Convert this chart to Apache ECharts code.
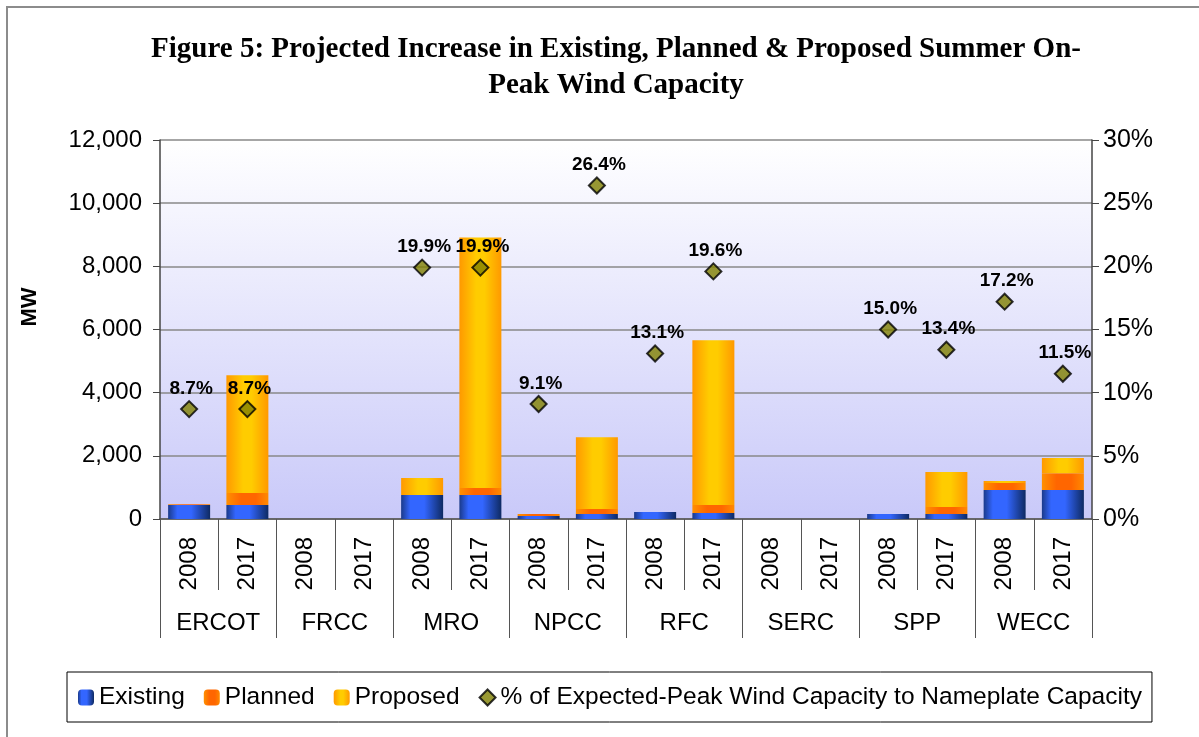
<!DOCTYPE html>
<html>
<head>
<meta charset="utf-8">
<title>Figure 5</title>
<script src="https://cdn.jsdelivr.net/npm/echarts@6/dist/echarts.min.js"></script>
<style>
  html, body { margin: 0; padding: 0; background: #fff; }
  #chart { width: 1199px; height: 737px; }
</style>
</head>
<body>
<div id="chart"></div>
<script>
// regions and the two years shown for each
var regions = ['ERCOT', 'FRCC', 'MRO', 'NPCC', 'RFC', 'SERC', 'SPP', 'WECC']
var years = ['2008', '2017', '2008', '2017', '2008', '2017', '2008', '2017',
             '2008', '2017', '2008', '2017', '2008', '2017', '2008', '2017']

// MW
var existing = [440, 440, 0, 0, 760, 760, 95, 160, 220, 190, 0, 0, 160, 160, 920, 920]
var planned  = [30, 380, 0, 0, 0, 220, 65, 155, 0, 250, 0, 0, 0, 220, 220, 530]
var proposed = [0, 3730, 0, 0, 540, 7930, 0, 2275, 0, 5220, 0, 0, 0, 1105, 60, 480]

// % of expected-peak wind capacity to nameplate capacity
var pctPeak = [8.7, 8.7, null, null, 19.9, 19.9, 9.1, 26.4, 13.1, 19.6, null, null, 15.0, 13.4, 17.2, 11.5]

var mwTicks = [0, 2000, 4000, 6000, 8000, 10000, 12000]

var font = 'Arial, "Liberation Sans", sans-serif'

function hGrad (stops) {
    return new echarts.graphic.LinearGradient(0, 0, 1, 0, stops.map(function (s) {
        return { offset: s[0], color: s[1] }
    }))
}

var chart = echarts.init(document.getElementById('chart'))

var option = {
    animation: false,
    textStyle: { fontFamily: font, color: '#000' },
    graphic: [
        {
            type: 'rect',
            shape: { x: 7, y: 7, width: 1300, height: 800 },
            style: { fill: 'none', stroke: '#8c8c8c', lineWidth: 2 },
            silent: true
        },
        {
            type: 'text',
            x: 616,
            y: 32,
            style: {
                text: 'Figure 5: Projected Increase in Existing, Planned & Proposed Summer On-\nPeak Wind Capacity',
                font: 'bold 29px "Times New Roman", "Liberation Serif", serif',
                fill: '#000',
                align: 'center',
                lineHeight: 36
            }
        },
        {
            type: 'text',
            x: 30,
            y: 307,
            rotation: Math.PI / 2,
            style: {
                text: 'MW',
                font: 'bold 22px ' + font,
                fill: '#000',
                align: 'center',
                verticalAlign: 'middle'
            }
        }
    ],
    grid: {
        left: 160,
        right: 107,
        top: 140,
        bottom: 218,
        show: true,
        borderWidth: 0,
        backgroundColor: new echarts.graphic.LinearGradient(0, 0, 0, 1, [
            { offset: 0, color: '#ffffff' },
            { offset: 1, color: '#c9c9f9' }
        ])
    },
    legend: {
        left: 67,
        top: 672,
        padding: [13, 10, 12, 11],
        itemGap: 19,
        itemWidth: 16,
        itemHeight: 16,
        borderColor: '#000',
        borderWidth: 1,
        textStyle: { fontSize: 24.5, color: '#000', fontFamily: font },
        data: ['Existing', 'Planned', 'Proposed', '% of Expected-Peak Wind Capacity to Nameplate Capacity']
    },
    xAxis: [
        {
            type: 'category',
            data: years,
            position: 'bottom',
            axisLine: { lineStyle: { color: '#555', width: 1.5 } },
            axisTick: { show: true, interval: 0, length: 71, lineStyle: { color: '#555' } },
            axisLabel: { interval: 0, rotate: 90, margin: 18, fontSize: 24, color: '#000' }
        },
        {
            type: 'category',
            data: regions,
            position: 'bottom',
            axisLine: { show: false },
            axisTick: { show: true, interval: 0, length: 119, lineStyle: { color: '#555' } },
            axisLabel: { interval: 0, margin: 92, fontSize: 24, color: '#000' }
        }
    ],
    yAxis: [
        {
            type: 'value',
            min: mwTicks[0],
            max: mwTicks[mwTicks.length - 1],
            interval: 2000,
            axisLine: { show: true, lineStyle: { color: '#444', width: 1.5 } },
            axisTick: { show: true, length: 7, lineStyle: { color: '#444' } },
            splitLine: { lineStyle: { color: '#888', width: 1.5 } },
            axisLabel: {
                margin: 18,
                fontSize: 24,
                color: '#000',
                formatter: function (v) { return v.toLocaleString('en-US') }
            }
        },
        {
            type: 'value',
            min: 0,
            max: 30,
            interval: 5,
            position: 'right',
            axisLine: { show: true, lineStyle: { color: '#444', width: 1.5 } },
            axisTick: { show: true, length: 7, lineStyle: { color: '#444' } },
            splitLine: { show: false },
            axisLabel: { margin: 11, fontSize: 25, color: '#000', formatter: '{value}%' }
        }
    ],
    series: [
        {
            name: 'Existing',
            type: 'bar',
            stack: 'mw',
            barWidth: 42,
            data: existing,
            itemStyle: {
                color: hGrad([[0, '#1a3a8a'], [0.22, '#3366ff'], [0.55, '#3366ff'], [1, '#0e2a62']])
            }
        },
        {
            name: 'Planned',
            type: 'bar',
            stack: 'mw',
            barWidth: 42,
            data: planned,
            itemStyle: {
                color: hGrad([[0, '#ff9000'], [0.35, '#ff6600'], [0.7, '#ff6600'], [1, '#ff8a00']])
            }
        },
        {
            name: 'Proposed',
            type: 'bar',
            stack: 'mw',
            barWidth: 42,
            data: proposed,
            itemStyle: {
                color: hGrad([[0, '#ff9900'], [0.4, '#ffcc00'], [0.6, '#ffcc00'], [1, '#ff9900']])
            }
        },
        {
            name: '% of Expected-Peak Wind Capacity to Nameplate Capacity',
            type: 'scatter',
            yAxisIndex: 1,
            symbol: 'diamond',
            symbolSize: 16,
            data: pctPeak,
            itemStyle: { color: '#808000', borderColor: '#000', borderWidth: 2 },
            label: {
                show: true,
                position: 'top',
                distance: 2,
                offset: [2, 0],
                fontSize: 19,
                fontWeight: 'bold',
                color: '#000',
                opacity: 1,
                textBorderWidth: 0,
                formatter: function (p) { return p.value.toFixed(1) + '%' }
            },
            emphasis: { disabled: true },
            z: 5
        }
    ]
}

chart.setOption(option)
</script>
</body>
</html>
